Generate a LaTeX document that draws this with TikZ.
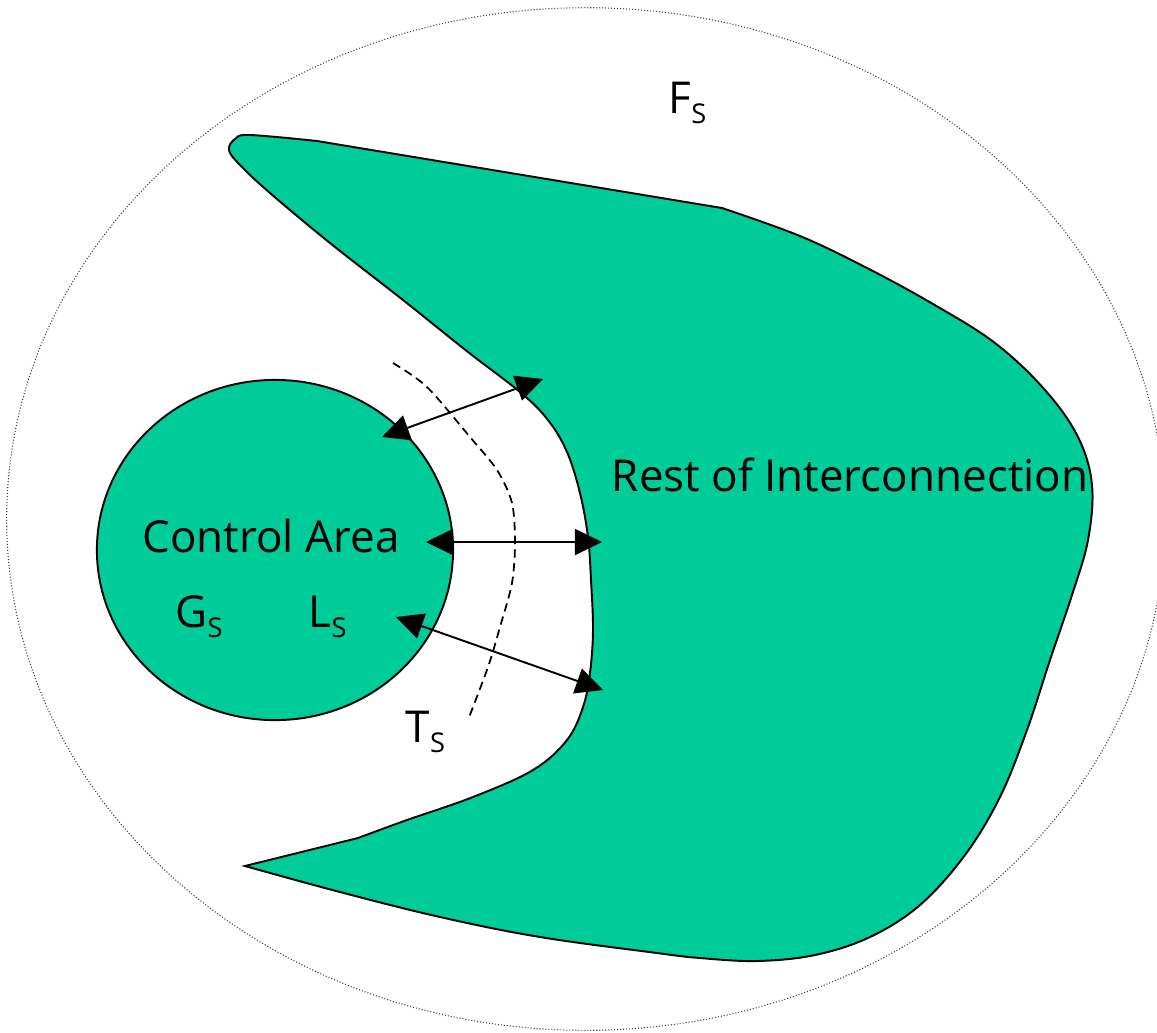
\documentclass[tikz,border=0pt]{standalone}
\usepackage{fontspec}
\setmainfont{Open Sans}
\usepackage{tikz}
\usetikzlibrary{
	arrows.meta,
	shapes.geometric
}
\definecolor{AreaGreen}{RGB}{0,204,153}
\definecolor{RingGray}{RGB}{60,60,60}
\newcommand{\symS}[1]{#1\raisebox{-0.45ex}{\scalebox{0.62}{S}}}

\begin{document}
\begin{tikzpicture}[x=0.01cm, y=-0.01cm,
		region/.style={draw=black, line width=0.55pt, fill=AreaGreen},
		tie/.style={line width=0.55pt, {Triangle[length=7.7pt,width=7.4pt]}-{Triangle[length=7.7pt,width=7.4pt]}},
		lbl/.style={inner sep=0pt, font=\fontsize{12.5}{14}\selectfont}]
		\useasboundingbox (0,0) rectangle (1157,1032);
		% outer boundary
		\draw[RingGray, line width=0.3pt, dash pattern=on 0.3pt off 0.55pt] (585.8,519) ellipse [x radius=5.788cm, y radius=5.11cm];
		% rest of interconnection
		\draw[region] plot[smooth, tension=0.6] coordinates {(722,208) (800,236) (867,268) (933,304) (995,343) (1045,390) (1078,437) (1092,485) (1088,540) (1072,595) (1050,660) (1027,730) (1000,797) (965,855) (920,905) (870,937) (815,955) (757,961) (700,958) (657,953) (540,937) (440,917) (340,892) (245,866)}
			-- (358,838)
			-- plot[smooth, tension=0.6] coordinates {(358,838) (407,820) (473,797) (533,770) (567,740) (583,707) (590,673) (593,630) (591,580) (588,537) (580,493) (567,452) (548,420) (520,392) (468,352) (403,300) (330,243) (270,193) (240,165) (229,150) (235,139) (250,135) (317,141)}
			-- cycle;
		% control area
		\node[region, ellipse, minimum width=3.56cm, minimum height=3.40cm, inner sep=0pt] (area) at (275,550) {};
		% tie line cut
		\draw[line width=0.5pt, dash pattern=on 2.4pt off 1.5pt] plot[smooth] coordinates {(393,363) (427,387) (470,437) (497,470) (512,503) (515,543) (512,583) (500,627) (488,667) (468,720)};
		% ties
		\coordinate (t1a) at (382,437);
		\coordinate (t1b) at (543,379);
		\coordinate (t2a) at (426,542);
		\coordinate (t2b) at (602,542);
		\coordinate (t3a) at (396,617);
		\coordinate (t3b) at (603,690);
		\draw[tie] (t1a) -- (t1b);
		\draw[tie] (t2a) -- (t2b);
		\draw[tie] (t3a) -- (t3b);
		% labels
		\node[lbl, anchor=base west] (fs) at (668,113) {\symS{F}};
		\node[lbl, anchor=base] (name) at (271,552) {Control Area};
		\node[lbl, anchor=base west] (gs) at (175,627) {\symS{G}};
		\node[lbl, anchor=base west] (ls) at (308,627) {\symS{L}};
		\node[lbl, anchor=base west] (ts) at (405,742) {\symS{T}};
		\node[lbl, anchor=base] (rest) at (850,491) {Rest of Interconnection};
	\end{tikzpicture}
\end{document}
